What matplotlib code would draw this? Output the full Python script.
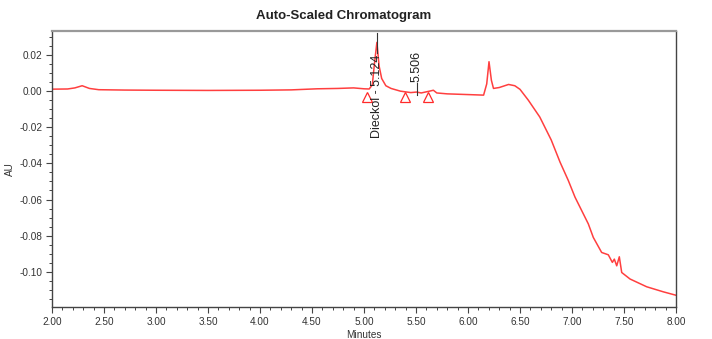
import matplotlib
matplotlib.use("Agg")
import matplotlib.pyplot as plt
from matplotlib.ticker import MultipleLocator, FormatStrFormatter, FuncFormatter

plt.rcParams["font.family"] = ["Liberation Sans", "DejaVu Sans"]

# detector trace (minutes, AU)
minutes = [
    2.00, 2.15, 2.22, 2.29, 2.36, 2.45, 2.70, 3.00, 3.50, 4.00, 4.30, 4.55,
    4.75, 4.90, 5.00, 5.05, 5.08, 5.10, 5.124, 5.145, 5.17, 5.21, 5.26, 5.35,
    5.45, 5.506, 5.55, 5.63, 5.667, 5.70, 5.80, 6.00, 6.15, 6.18, 6.202,
    6.225, 6.245, 6.30, 6.39, 6.45, 6.50, 6.58, 6.69, 6.80, 6.885, 6.964,
    7.029, 7.093, 7.157, 7.205, 7.285, 7.349, 7.388, 7.407, 7.43, 7.455,
    7.478, 7.558, 7.718, 7.878, 8.00,
]
au = [
    0.0011, 0.0012, 0.0018, 0.0030, 0.0015, 0.0008, 0.0006, 0.0005, 0.0004,
    0.0005, 0.0007, 0.0013, 0.0015, 0.0018, 0.0013, 0.0012, 0.0035, 0.0150,
    0.0270, 0.0140, 0.0070, 0.0030, 0.0015, 0.0000, -0.0008, -0.0005,
    -0.0010, 0.0000, 0.0005, -0.0010, -0.0015, -0.0019, -0.0022, 0.0040,
    0.0163, 0.0060, 0.0015, 0.0020, 0.0037, 0.0030, 0.0010, -0.0050,
    -0.0143, -0.0270, -0.0393, -0.0494, -0.0587, -0.0661, -0.0735, -0.0810,
    -0.0893, -0.0906, -0.0948, -0.0930, -0.0967, -0.0917, -0.1004, -0.1040,
    -0.1083, -0.1111, -0.1130,
]

# integration start/end markers
event_t = [5.032, 5.394, 5.618]
event_au = [-0.0035, -0.0035, -0.0035]

# peak labels
peak_t = [5.124, 5.506]
peak_text = ["Dieckol - 5.124", "5.506"]

fig = plt.figure(figsize=(7.12, 3.39), dpi=100)
ax = fig.add_axes([52 / 712, 1 - 307 / 339, 624 / 712, 276 / 339])

ax.plot(minutes, au, color="#ff2a2a", lw=1.1, alpha=0.9)
ax.plot(event_t, event_au, ls="none", marker="^", ms=7, mfc="none",
        mec="#ff2a2a", mew=0.9)

# peak annotations
ax.plot([peak_t[0], peak_t[0]], [0.0210, 0.0320], color="#333333", lw=0.8)
ax.text(peak_t[0], -0.0030, peak_text[0], rotation=90, ha="center",
        va="center", fontsize=9, color="#222222")
ax.plot([peak_t[1], peak_t[1]], [-0.0022, 0.0044], color="#333333", lw=0.8)
ax.text(peak_t[1], 0.0135, peak_text[1], rotation=90, ha="center",
        va="center", fontsize=9, color="#222222")

ax.set_xlim(2.0, 8.0)
ax.set_ylim(-0.1195, 0.0333)
ax.xaxis.set_major_locator(MultipleLocator(0.5))
ax.xaxis.set_minor_locator(MultipleLocator(0.1))
ax.yaxis.set_major_locator(MultipleLocator(0.02))
ax.yaxis.set_minor_locator(MultipleLocator(0.005))
ax.xaxis.set_major_formatter(FormatStrFormatter("%.2f"))
# avoid "-0.00" from float round-off
ax.yaxis.set_major_formatter(FuncFormatter(lambda v, _: f"{round(v, 4) + 0.0:.2f}"))

ax.tick_params(which="major", length=4, width=0.8, color="#444444",
               labelsize=7.2, labelcolor="#333333", pad=3)
ax.tick_params(which="minor", length=2.5, width=0.7, color="#444444")

for side in ["left", "bottom", "right"]:
    ax.spines[side].set_color("#444444")
    ax.spines[side].set_linewidth(1.0)
ax.spines["top"].set_color("#999999")
ax.spines["top"].set_linewidth(1.6)

ax.set_xlabel("Minutes", fontsize=7.2, color="#333333", labelpad=2)
ax.set_ylabel("AU", fontsize=7.2, color="#333333", labelpad=3)

fig.text(344 / 712, 1 - 16 / 339, "Auto-Scaled Chromatogram", ha="center",
         va="center", fontsize=9.5, fontweight="bold", color="#222222")

fig.savefig("out.png", dpi=100)
